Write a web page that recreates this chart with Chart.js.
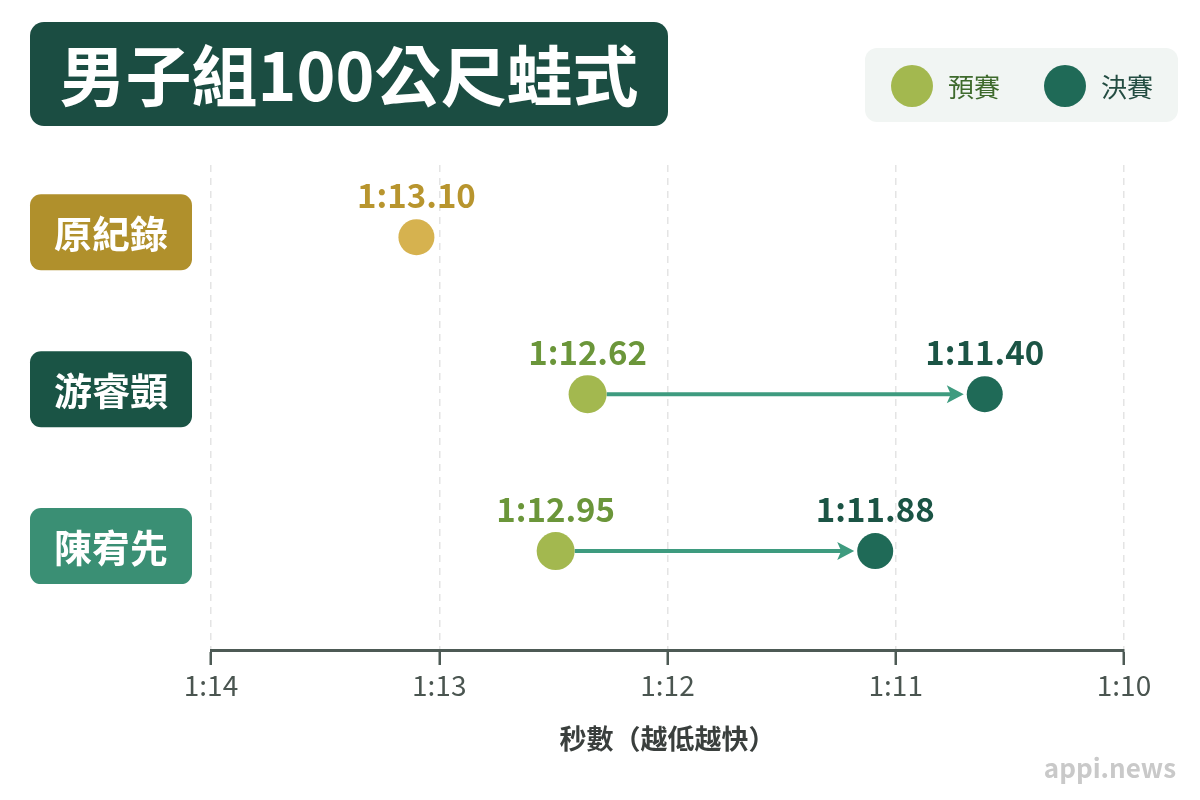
<!DOCTYPE html>
<html>
<head>
<meta charset="utf-8">
<script src="https://cdn.jsdelivr.net/npm/chart.js@4"></script>
<style>
  body { margin: 0; background: #fff; }
  #wrap { width: 1200px; height: 800px; }
</style>
</head>
<body>
<div id="wrap"><canvas id="myChart" width="1200" height="800"></canvas></div>
<script>
// filas (de arriba hacia abajo)
let nadadores = ['原紀錄', '游睿顗', '陳宥先']
let coloresFila = ['#b0902c', '#1a5445', '#3a8f74']

// posiciones en segundos (1:xx.xx -> 60 + xx.xx)
let recordPos = [73.10]
let prelimPos = [null, 72.35, 72.49]
let finalPos = [null, 70.61, 71.09]

// textos de tiempo que muestra el gráfico
let recordTxt = ['1:13.10']
let prelimTxt = [null, '1:12.62', '1:12.95']
let finalTxt = [null, '1:11.40', '1:11.88']

let ejeTicks = [70, 71, 72, 73, 74]
let titulo = '男子組100公尺蛙式'
let leyenda = ['預賽', '決賽']
let ejeTitulo = '秒數（越低越快）'

let cjk = '"Noto Sans CJK TC", "Noto Sans", sans-serif'

let puntos = function (pos) {
    let out = []
    pos.forEach(function (v, i) {
        if (v !== null) out.push({ x: v, y: i })
    })
    return out
}

let textos = function (txt) {
    return txt.filter(function (t) { return t !== null })
}

let caja = function (ctx, x, y, w, h, r, color) {
    ctx.beginPath()
    ctx.roundRect(x, y, w, h, r)
    ctx.fillStyle = color
    ctx.fill()
}

let flechas = {
    id: 'flechas',
    beforeDatasetsDraw: function (chart) {
        let ctx = chart.ctx
        let xs = chart.scales.x
        let ys = chart.scales.y
        prelimPos.forEach(function (p, i) {
            let f = finalPos[i]
            if (p === null || f === null) return
            let x1 = xs.getPixelForValue(p) + 19
            let x2 = xs.getPixelForValue(f) - 21
            let y = ys.getPixelForValue(i)
            ctx.save()
            ctx.strokeStyle = '#3e9b7f'
            ctx.fillStyle = '#3e9b7f'
            ctx.lineWidth = 4
            ctx.beginPath()
            ctx.moveTo(x1, y)
            ctx.lineTo(x2 - 8, y)
            ctx.stroke()
            ctx.beginPath()
            ctx.moveTo(x2, y)
            ctx.lineTo(x2 - 17, y - 9)
            ctx.lineTo(x2 - 13, y)
            ctx.lineTo(x2 - 17, y + 9)
            ctx.closePath()
            ctx.fill()
            ctx.restore()
        })
    }
}

let adornos = {
    id: 'adornos',
    afterDatasetsDraw: function (chart) {
        let ctx = chart.ctx
        let ys = chart.scales.y

        // etiquetas de tiempo
        ctx.save()
        ctx.font = 'bold 33px ' + cjk
        ctx.textAlign = 'center'
        ctx.textBaseline = 'middle'
        let colores = ['#b8952e', '#6b963a', '#1b5445']
        chart.data.datasets.forEach(function (ds, d) {
            let meta = chart.getDatasetMeta(d)
            meta.data.forEach(function (pt, k) {
                ctx.fillStyle = colores[d]
                ctx.fillText(ds.textos[k], pt.x, pt.y - 42)
            })
        })

        // nombres a la izquierda
        nadadores.forEach(function (n, i) {
            let y = ys.getPixelForValue(i) - 5
            caja(ctx, 30, y - 38, 162, 76, 11, coloresFila[i])
            ctx.fillStyle = '#ffffff'
            ctx.font = 'bold 38px ' + cjk
            ctx.fillText(n, 111, y + 1)
        })

        // título
        caja(ctx, 30, 22, 638, 104, 14, '#1b4d42')
        ctx.fillStyle = '#ffffff'
        ctx.font = 'bold 66px ' + cjk
        ctx.fillText(titulo, 349, 76)

        // leyenda
        caja(ctx, 865, 48, 313, 74, 12, '#f1f5f3')
        ctx.textAlign = 'left'
        ctx.font = '26px ' + cjk
        let lx = [912, 1065]
        let lc = ['#a3b84f', '#1f6a57']
        let lt = ['#3e6a2c', '#244d42']
        leyenda.forEach(function (t, i) {
            ctx.beginPath()
            ctx.arc(lx[i], 86, 21, 0, Math.PI * 2)
            ctx.fillStyle = lc[i]
            ctx.fill()
            ctx.fillStyle = lt[i]
            ctx.fillText(t, lx[i] + 36, 87)
        })

        // marca
        ctx.textAlign = 'right'
        ctx.font = 'bold 26px ' + cjk
        ctx.fillStyle = '#c9c9c9'
        ctx.fillText('appi.news', 1176, 768)
        ctx.restore()
    }
}

let miGrafico = new Chart('myChart', {
    type: 'scatter',
    data: {
        datasets: [
            { label: '原紀錄', data: puntos(recordPos), textos: recordTxt, backgroundColor: '#d6b24f', pointRadius: 18, pointHoverRadius: 18, borderWidth: 0 },
            { label: leyenda[0], data: puntos(prelimPos), textos: textos(prelimTxt), backgroundColor: '#a3b84f', pointRadius: 19, pointHoverRadius: 19, borderWidth: 0 },
            { label: leyenda[1], data: puntos(finalPos), textos: textos(finalTxt), backgroundColor: '#1f6a57', pointRadius: 18, pointHoverRadius: 18, borderWidth: 0 }
        ]
    },
    options: {
        responsive: false,
        animation: false,
        events: [],
        layout: { padding: { left: 211, right: 76, top: 165, bottom: 41 } },
        plugins: { legend: { display: false }, tooltip: { enabled: false } },
        scales: {
            x: {
                type: 'linear',
                reverse: true,
                min: ejeTicks[0],
                max: ejeTicks[ejeTicks.length - 1],
                afterBuildTicks: function (axis) {
                    axis.ticks = ejeTicks.map(function (v) { return { value: v } })
                },
                ticks: {
                    callback: function (v) { return '1:' + (v - 60) },
                    font: { family: cjk, size: 28 },
                    color: '#4a5550',
                    padding: 4,
                    maxRotation: 0
                },
                grid: {
                    color: '#e4e4e4',
                    lineWidth: 1.5,
                    tickColor: '#4d5a55',
                    tickWidth: 2.5,
                    tickLength: 15
                },
                border: { display: true, color: '#4d5a55', width: 3, dash: [7, 6] },
                title: {
                    display: true,
                    text: ejeTitulo,
                    font: { family: cjk, size: 27, weight: '600' },
                    color: '#3a3f3d',
                    padding: { top: 16, bottom: 4 }
                }
            },
            y: {
                type: 'linear',
                display: false,
                reverse: true,
                min: -0.46,
                max: 2.63
            }
        }
    },
    plugins: [flechas, adornos]
})
</script>
</body>
</html>
